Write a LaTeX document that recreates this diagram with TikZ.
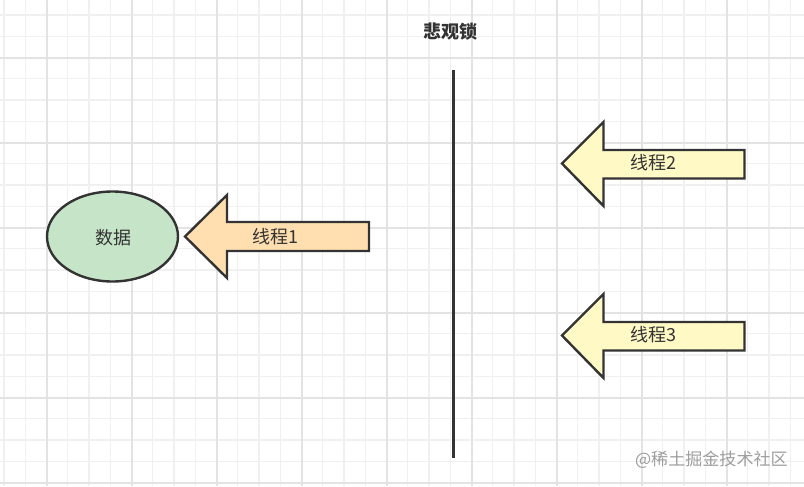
\documentclass[tikz,border=0pt]{standalone}
\usepackage{fontspec}
\newfontfamily\cjk{Noto Sans CJK SC}
\definecolor{gridminor}{HTML}{F0F0F0}
\definecolor{gridmajor}{HTML}{E3E3E3}
\definecolor{edge}{HTML}{333333}
\definecolor{greenfill}{HTML}{C6E5C8}
\definecolor{orangefill}{HTML}{FFDFB0}
\definecolor{yellowfill}{HTML}{FFF9C6}
\tikzset{
  outline/.style={draw=edge, line width=1.8pt, line join=miter},
  lbl/.style={font=\cjk\fontsize{13.5}{15}\selectfont, text=edge, inner sep=0pt},
}
\begin{document}
\begin{tikzpicture}[x=0.75pt,y=-0.75pt]
\useasboundingbox (0,0) rectangle (804,486);
\fill[white] (0,0) rectangle (804,486);
% grid
\foreach \k in {0,...,37} {
  \pgfmathsetmacro{\xx}{4+21.25*\k}
  \draw[gridminor, line width=0.9pt] (\xx,0) -- (\xx,486);
}
\foreach \k in {-1,...,22} {
  \pgfmathsetmacro{\yy}{15+21.25*\k}
  \draw[gridminor, line width=0.9pt] (0,\yy) -- (804,\yy);
}
\foreach \k in {0,...,9} {
  \pgfmathsetmacro{\xx}{47+85*\k}
  \draw[gridmajor, line width=0.9pt] (\xx,0) -- (\xx,486);
}
\foreach \k in {-1,...,5} {
  \pgfmathsetmacro{\yy}{58+85*\k}
  \draw[gridmajor, line width=0.9pt] (0,\yy) -- (804,\yy);
}
% title
\node[font=\cjk\bfseries\fontsize{13.5}{15}\selectfont, text=edge, inner sep=0pt] (title) at (450,32) {悲观锁};
% divider
\coordinate (divtop) at (453.5,70);
\coordinate (divbot) at (453.5,458);
\draw[edge, line width=2.2pt] (divtop) -- (divbot);
% data ellipse
\draw[outline, fill=greenfill] (112.5,236.5) ellipse [x radius=65.5, y radius=45];
\node[lbl] (data) at (113,238) {数据};
% arrow 1
\draw[outline, fill=orangefill] (185,236.5) -- (227,195) -- (227,222) -- (369,222) -- (369,251) -- (227,251) -- (227,278) -- cycle;
\node[lbl] (t1) at (275.5,237) {线程1};
% arrow 2
\draw[outline, fill=yellowfill] (562,163.5) -- (603.5,122) -- (603.5,150) -- (744.5,150) -- (744.5,178.5) -- (603.5,178.5) -- (603.5,206) -- cycle;
\node[lbl] (t2) at (653,163) {线程2};
% arrow 3
\draw[outline, fill=yellowfill] (562,335.5) -- (603.5,294) -- (603.5,322) -- (744.5,322) -- (744.5,350.5) -- (603.5,350.5) -- (603.5,378) -- cycle;
\node[lbl] (t3) at (653,335) {线程3};
% watermark
\node[font=\cjk\fontsize{12.8}{14}\selectfont, text=black!38, inner sep=0pt, anchor=east] (wm) at (788,460) {@稀土掘金技术社区};
\end{tikzpicture}
\end{document}
